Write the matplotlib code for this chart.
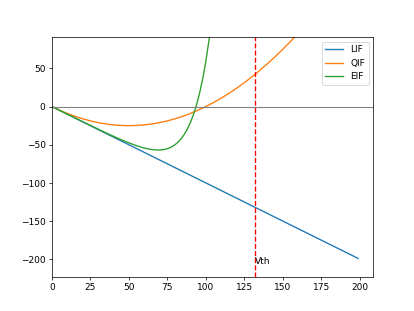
import matplotlib.pyplot as plt

# membrane potential samples
lif_v = [0, 199]
lif_f = [0, -199]

qif_v = [0, 5, 10, 15, 20, 25, 30, 35, 40, 45, 50, 55, 60, 65, 70, 75, 80,
         85, 90, 95, 100, 105, 110, 115, 120, 125, 130, 135, 140, 145, 150,
         155, 160]
qif_f = [0, -4.75, -9, -12.75, -16, -18.75, -21, -22.75, -24, -24.75, -25,
         -24.75, -24, -22.75, -21, -18.75, -16, -12.75, -9, -4.75, 0, 5.25,
         11, 17.25, 24, 31.25, 39, 47.25, 56, 65.25, 75, 85.25, 96]

eif_v = [0, 5, 10, 15, 20, 25, 30, 35, 40, 45, 50, 55, 60, 65, 70, 72, 74,
         76, 78, 80, 82, 84, 86, 88, 90, 92, 94, 96, 98, 100, 102, 104]
eif_f = [0, -4.94, -9.91, -14.87, -19.8, -24.69, -29.53, -34.29, -38.93,
         -43.38, -47.54, -51.26, -54.33, -56.4, -56.96, -56.6, -55.8, -54.5,
         -52.6, -50.0, -46.55, -42.1, -36.5, -29.55, -20.94, -10.41, 2.38,
         17.9, 36.5, 58.9, 85.7, 117.8]

vth = 132

fig = plt.figure(figsize=(6.4, 4.8), dpi=64.84)
plt.plot(lif_v, lif_f, label='LIF')
plt.plot(qif_v, qif_f, label='QIF')
plt.plot(eif_v, eif_f, label='EIF')
plt.axhline(0, color='gray', lw=1.2)
plt.axvline(vth, color='r', linestyle='--')
plt.text(vth, -206, 'Vth')
plt.xlim(0, 208.95)
plt.ylim(-223, 91)
plt.legend(loc='upper right')
plt.savefig('out.png')
